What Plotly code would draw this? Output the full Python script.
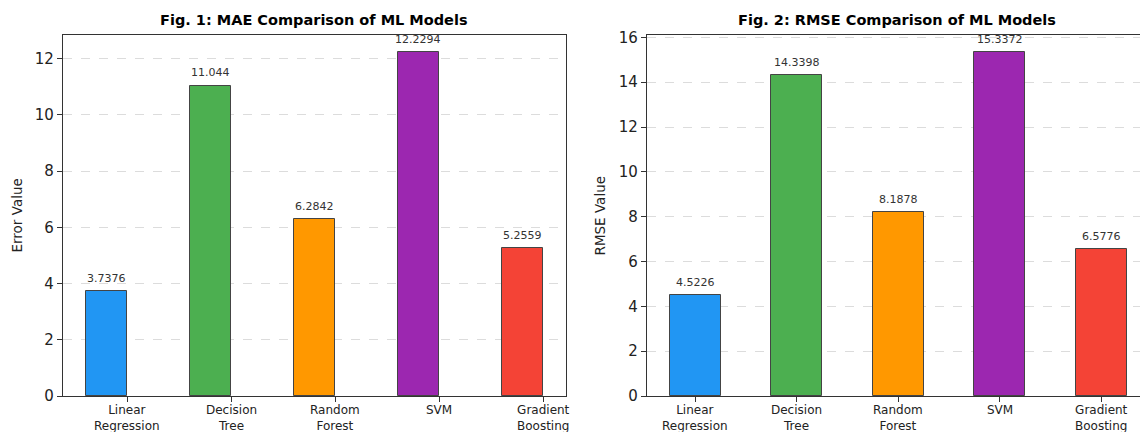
import plotly.graph_objects as go

models = ["Linear Regression", "Decision Tree", "Random Forest", "SVM", "Gradient Boosting"]
tick_labels = ["Linear<br>Regression", "Decision<br>Tree", "Random<br>Forest", "SVM", "Gradient<br>Boosting"]
mae = [3.7376, 11.044, 6.2842, 12.2294, 5.2559]
rmse = [4.5226, 14.3398, 8.1878, 15.3372, 6.5776]
colors = ["#2196F3", "#4CAF50", "#FF9800", "#9C27B0", "#F44336"]
titles = ["Fig. 1: MAE Comparison of ML Models", "Fig. 2: RMSE Comparison of ML Models"]
ylabels = ["Error Value", "RMSE Value"]

FONT = "DejaVu Sans"
W, H = 1140, 432
pos = list(range(len(models)))

fig = go.Figure()
# Fig 1: bars offset left of tick (edge aligned)
fig.add_trace(go.Bar(x=pos, y=mae, width=0.4, offset=-0.4,
                     marker=dict(color=colors, line=dict(color="#444", width=1)),
                     xaxis="x", yaxis="y", showlegend=False, hoverinfo="skip"))
# Fig 2: centered bars
fig.add_trace(go.Bar(x=pos, y=rmse, width=0.5,
                     marker=dict(color=colors, line=dict(color="#444", width=1)),
                     xaxis="x2", yaxis="y2", showlegend=False, hoverinfo="skip"))

annotations = []
for i, v in enumerate(mae):
    annotations.append(dict(x=i - 0.2, y=v, xref="x", yref="y", text=f"{v:g}", showarrow=False,
                            yanchor="bottom", yshift=4, font=dict(family=FONT, size=11, color="#333")))
for i, v in enumerate(rmse):
    annotations.append(dict(x=i, y=v, xref="x2", yref="y2", text=f"{v:g}", showarrow=False,
                            yanchor="bottom", yshift=4, font=dict(family=FONT, size=11, color="#333")))

# category tick labels (two lines), placed as one text block each just below the axis
for xr in ["x", "x2"]:
    for i, lab in enumerate(tick_labels):
        annotations.append(dict(x=i, y=1 - 402 / H, xref=xr, yref="paper", text=lab,
                                showarrow=False, xanchor="center", yanchor="top", borderpad=0,
                                font=dict(family=FONT, size=12, color="#222")))

ybot = (H - 396) / H
ytop = (H - 35) / H
d1 = [63 / W, 566 / W]
d2 = [647 / W, 1.0]

for dom, t in zip([d1, [647 / W, 1148 / W]], titles):
    annotations.append(dict(x=(dom[0] + dom[1]) / 2, y=1 - 20 / H, xref="paper", yref="paper",
                            text=f"<b>{t}</b>", showarrow=False, xanchor="center", yanchor="middle",
                            font=dict(family=FONT, size=14.5, color="#000")))
for xc, t in zip([16 / W, 599 / W], ylabels):
    annotations.append(dict(x=xc, y=(ybot + ytop) / 2, xref="paper", yref="paper", text=t,
                            showarrow=False, textangle=-90, xanchor="center", yanchor="middle",
                            font=dict(family=FONT, size=13.5, color="#222")))

xcommon = dict(tickmode="array", tickvals=pos, ticktext=tick_labels, showticklabels=False,
               ticks="outside", ticklen=5, tickcolor="#333", showgrid=False, zeroline=False,
               showline=True, linecolor="#333", linewidth=1.2, automargin=False)
ycommon = dict(ticks="outside", ticklen=5, tickcolor="#333", showgrid=True, gridcolor="#dcdcdc",
               griddash="dash", gridwidth=1, zeroline=False, showline=True, linecolor="#333",
               linewidth=1.2, tickfont=dict(family=FONT, size=15, color="#222"), dtick=2,
               automargin=False)

fig.update_layout(
    width=W, height=H, margin=dict(l=0, r=0, t=0, b=0),
    paper_bgcolor="white", plot_bgcolor="white",
    bargap=0,
    xaxis=dict(domain=d1, range=[-0.62, 4.22], anchor="y", mirror=True, **xcommon),
    yaxis=dict(domain=[ybot, ytop], range=[0, 12.84], anchor="x", mirror=True, **ycommon),
    xaxis2=dict(domain=d2, range=[-0.475, -0.475 + (W - 647) / 101.5], anchor="y2", mirror=True, **xcommon),
    yaxis2=dict(domain=[ybot, ytop], range=[0, 16.104], anchor="x2", mirror=False, **ycommon),
    annotations=annotations,
    font=dict(family=FONT),
)

fig.write_html("out.html", config={"displayModeBar": False},
               post_script="document.body.style.margin='0';document.body.style.overflow='hidden';")
